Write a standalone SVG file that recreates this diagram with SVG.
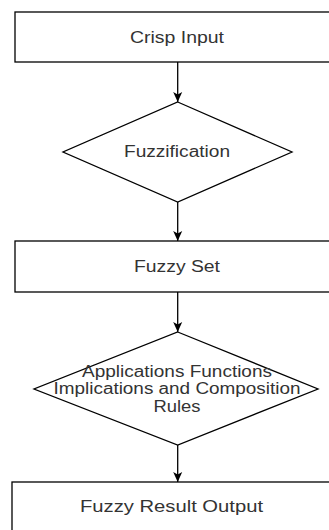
<svg xmlns="http://www.w3.org/2000/svg" width="329" height="530" viewBox="0 0 329 530">
<style>
.n{fill:#fff;stroke:#000;stroke-width:1.3}
.t{font-family:"Liberation Sans",Arial,sans-serif;font-size:16px;fill:#333;text-anchor:middle}
.c{stroke:#000;stroke-width:1.3;fill:none;marker-end:url(#ah)}
</style>
<defs>
<marker id="ah" markerUnits="userSpaceOnUse" markerWidth="12" markerHeight="12" viewBox="0 0 12 12" refX="10" refY="6" orient="auto">
<path d="M0,1.5 L10,6 L0,10.5 L2.5,6 Z" fill="#000"/>
</marker>
</defs>
<rect width="329" height="530" fill="#fff"/>
<g id="connectors">
<line class="c" x1="177.7" y1="62" x2="177.7" y2="102"/>
<line class="c" x1="177.7" y1="202" x2="177.7" y2="241"/>
<line class="c" x1="177.7" y1="292" x2="177.7" y2="332"/>
<line class="c" x1="177.7" y1="445" x2="177.7" y2="482"/>
</g>
<g id="crisp-input">
<rect class="n" x="15" y="12" width="326" height="50"/>
<text class="t" x="177" y="43" textLength="94" lengthAdjust="spacingAndGlyphs">Crisp Input</text>
</g>
<g id="fuzzification">
<polygon class="n" points="177.7,102 292,152 177.7,202 63,152"/>
<text class="t" x="177" y="157" textLength="106" lengthAdjust="spacingAndGlyphs">Fuzzification</text>
</g>
<g id="fuzzy-set">
<rect class="n" x="15" y="241" width="326" height="51"/>
<text class="t" x="177" y="272" textLength="86" lengthAdjust="spacingAndGlyphs">Fuzzy Set</text>
</g>
<g id="rules">
<polygon class="n" points="177.7,332 318,389 177.7,445 34,389"/>
<text class="t" x="177" y="376.5" textLength="190" lengthAdjust="spacingAndGlyphs">Applications Functions</text>
<text class="t" x="177" y="394" textLength="247" lengthAdjust="spacingAndGlyphs">Implications and Composition</text>
<text class="t" x="177" y="411.5" textLength="47" lengthAdjust="spacingAndGlyphs">Rules</text>
</g>
<g id="fuzzy-result-output">
<rect class="n" x="12" y="482" width="330" height="60"/>
<text class="t" x="171.5" y="512" textLength="183" lengthAdjust="spacingAndGlyphs">Fuzzy Result Output</text>
</g>
</svg>
